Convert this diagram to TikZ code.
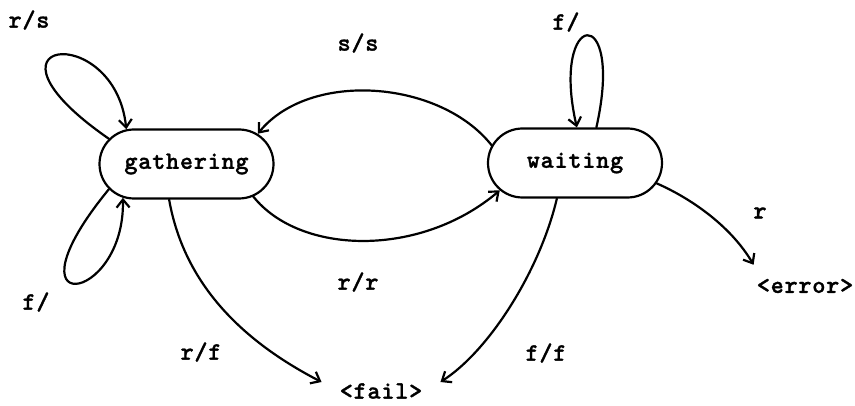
\documentclass[tikz,border=0pt]{standalone}
\usepackage{fontspec}
\newfontfamily\tw{lmmonolt10-bold.otf}[LetterSpace=3,FakeBold=1.2]
\usetikzlibrary{arrows.meta,shapes.misc}
\begin{document}
\begin{tikzpicture}[x=1pt,y=-1pt,
  txt/.style={font=\tw\fontsize{25}{28}\selectfont},
  lbl/.style={txt, inner sep=0pt},
  state/.style={rounded rectangle, draw, line width=2.2pt, txt,
    minimum width=174pt, minimum height=69pt, inner sep=0pt},
  conn/.style={line width=2.2pt, line cap=round,
    -{Straight Barb[length=8pt,width=13pt]}}]
\useasboundingbox (0,0) rectangle (855,406);
\fill[white] (0,0) rectangle (855,406);

% states
\node[state] (gath) at (186.5,164) {gathering};
\node[state] (wait) at (575,163) {waiting};

% terminals
\node[lbl, inner xsep=18pt, inner ysep=1pt] (fail) at (381,391) {<fail>};
\node[lbl, inner xsep=3pt, inner ysep=14pt] (error) at (805,286) {<error>};

% labels
\node[lbl] (lrs) at (29,20) {r/s};
\node[lbl] (lss) at (358,43) {s/s};
\node[lbl] (lfw) at (566,22) {f/};
\node[lbl] (lfg) at (36,302) {f/};
\node[lbl] (lrr) at (358,282) {r/r};
\node[lbl] (lrf) at (201,352) {r/f};
\node[lbl] (lff) at (546,353) {f/f};
\node[lbl] (lr) at (760,213) {r};

% self loops
\draw[conn] (gath.162) .. controls (-38,37) and (115,20) .. (gath.150);
\draw[conn] (gath.198) .. controls (0,322) and (125,305) .. (gath.208);
\draw[conn] (wait.59) .. controls (625,0) and (550,10) .. (wait.87);

% transitions between states
\draw[conn] (wait.168) .. controls (440,80) and (310,70) .. (gath.23);
\draw[conn] (gath.334) .. controls (300,255) and (420,258) .. (wait.200);

% transitions to terminals
\draw[conn] (gath.244) .. controls (185,290) and (250,345) .. (fail.north west);
\draw[conn] (wait.243) .. controls (540,270) and (490,350) .. (fail.north east);
\draw[conn] (wait.346) .. controls (690,198) and (730,225) .. (error.north west);
\end{tikzpicture}
\end{document}
